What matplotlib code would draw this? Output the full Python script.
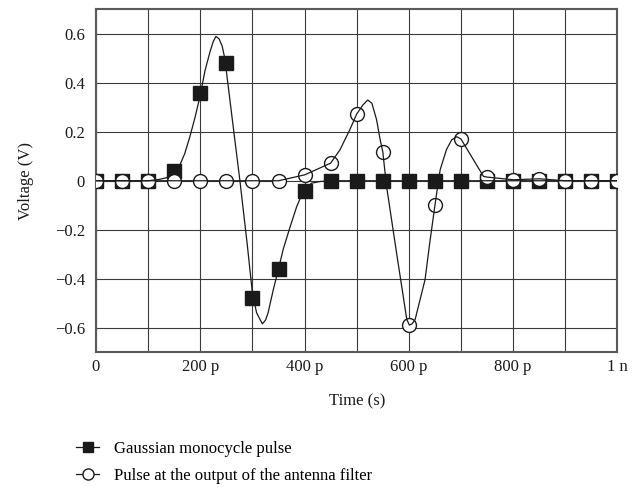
import matplotlib

matplotlib.use("Agg")
import matplotlib.pyplot as plt
from matplotlib.lines import Line2D

plt.rcParams["font.family"] = ["Liberation Serif", "DejaVu Serif"]
plt.rcParams["axes.unicode_minus"] = True

GRID = "#3a3a3a"
SPINE = "#5a5a5a"
INK = "#1a1a1a"

# sampled markers, every 50 ps
marker_t_ps = list(range(0, 1001, 50))
gauss_marks = [0, 0, 0, 0.04, 0.36, 0.48, -0.48, -0.36, -0.04, 0, 0,
               0, 0, 0, 0, 0, 0, 0, 0, 0, 0]
filter_marks = [0, 0, 0, 0, 0, 0, 0, 0, 0.025, 0.072, 0.273,
                0.118, -0.59, -0.10, 0.17, 0.015, 0.002, 0.008, 0, 0, 0]

# continuous traces
gauss_t_ps = [0, 100, 120, 135, 150, 161, 170, 180, 190, 200, 209, 219, 225,
              230, 236, 242, 247, 262, 276, 290, 300, 308, 319, 325, 330, 340,
              350, 359, 372, 385, 397, 413, 430, 450, 1000]
gauss_v = [0, 0, 0.005, 0.012, 0.03, 0.065, 0.11, 0.18, 0.26, 0.35, 0.45, 0.53,
           0.57, 0.59, 0.58, 0.55, 0.50, 0.24, 0.0, -0.26, -0.46, -0.54, -0.585,
           -0.57, -0.54, -0.445, -0.36, -0.28, -0.19, -0.105, -0.045, -0.01,
           -0.003, 0, 0]

filter_t_ps = [0, 350, 400, 450, 468, 487, 500, 512, 521, 529, 538, 545, 550,
               557, 576, 596, 601, 606, 612, 631, 640, 650, 656, 660, 672, 682,
               692, 700, 743, 750, 800, 850, 900, 1000]
filter_v = [0, 0, 0.024, 0.072, 0.127, 0.21, 0.273, 0.31, 0.33, 0.317, 0.25,
            0.167, 0.118, -0.02, -0.29, -0.567, -0.59, -0.585, -0.567, -0.404,
            -0.254, -0.1, -0.01, 0.045, 0.127, 0.167, 0.18, 0.17, 0.018, 0.015,
            0.004, 0.008, 0, 0]

xtick_ps = [0, 200, 400, 600, 800, 1000]
xtick_labels = ["0", "200 p", "400 p", "600 p", "800 p", "1 n"]
xgrid_ps = [100, 300, 500, 700, 900]
ytick_vals = [-0.6, -0.4, -0.2, 0, 0.2, 0.4, 0.6]
ytick_labels = ["\u22120.6", "\u22120.4", "\u22120.2", "0", "0.2", "0.4", "0.6"]

labels = ["Gaussian monocycle pulse", "Pulse at the output of the antenna filter"]


def ps(vals):
    return [v * 1e-12 for v in vals]


fig = plt.figure(figsize=(6.43, 4.87), dpi=100)
ax = fig.add_axes([0.1493, 0.2772, 0.811, 0.7033])

ax.plot(ps(marker_t_ps), gauss_marks, linestyle="none", marker="s",
        markersize=9.5, color=INK, zorder=3)
ax.plot(ps(marker_t_ps), filter_marks, linestyle="none", marker="o",
        markersize=10, markerfacecolor="white", markeredgecolor=INK,
        markeredgewidth=1.0, zorder=4)
ax.plot(ps(gauss_t_ps), gauss_v, color=INK, linewidth=0.9, zorder=5)
ax.plot(ps(filter_t_ps), filter_v, color=INK, linewidth=0.9, zorder=5)

ax.set_xlim(0, 1e-9)
ax.set_ylim(-0.7, 0.7)
ax.set_xticks(ps(xtick_ps))
ax.set_xticklabels(xtick_labels)
ax.set_xticks(ps(xgrid_ps), minor=True)
ax.set_yticks(ytick_vals)
ax.set_yticklabels(ytick_labels)

ax.grid(which="both", color=GRID, linewidth=0.8)
ax.set_axisbelow(True)
ax.tick_params(which="both", length=0, labelsize=12, colors=INK)
ax.tick_params(axis="y", pad=8)
ax.tick_params(axis="x", pad=5)
for spine in ax.spines.values():
    spine.set_edgecolor(SPINE)
    spine.set_linewidth(1.5)

ax.set_xlabel("Time (s)", fontsize=12, color=INK)
ax.set_ylabel("Voltage (V)", fontsize=12, color=INK)
ax.xaxis.set_label_coords(0.5, -0.122)
ax.yaxis.set_label_coords(-0.118, 0.5)

handles = [
    Line2D([], [], color=INK, linewidth=0.9, marker="s", markersize=7),
    Line2D([], [], color=INK, linewidth=0.9, marker="o", markersize=8,
           markerfacecolor="white", markeredgecolor=INK),
]
fig.legend(handles, labels, loc="upper left", bbox_to_anchor=(0.118, 0.094),
           frameon=False, fontsize=12, handlelength=1.4, handletextpad=0.9,
           labelspacing=0.62, borderpad=0, borderaxespad=0)

fig.savefig("out.png", dpi=100, facecolor="white")
plt.close(fig)
